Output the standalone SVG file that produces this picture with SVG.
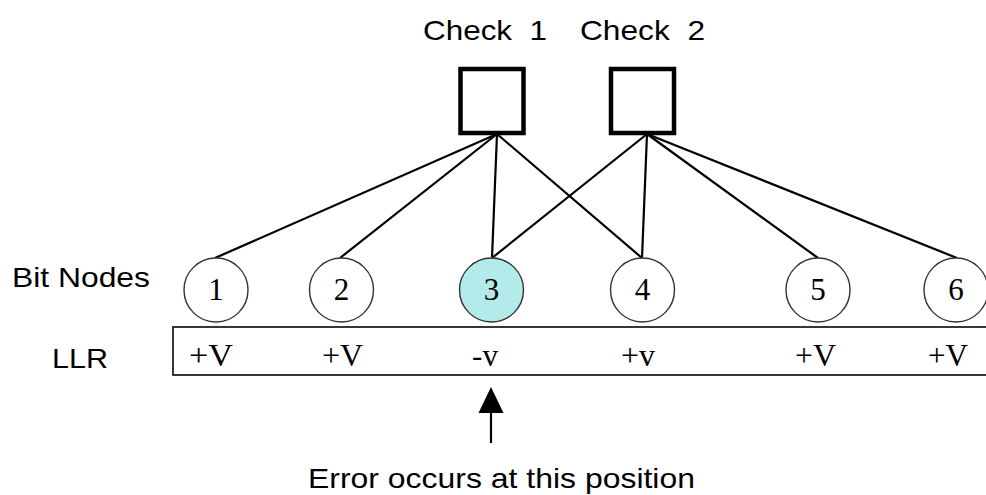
<svg xmlns="http://www.w3.org/2000/svg" width="986" height="495" viewBox="0 0 986 495">
  <style>
    .label { font-family: "Liberation Sans", Arial, sans-serif; font-size: 28px; fill: #000; }
    .check { fill: #fff; stroke: #000; stroke-width: 4.5; }
    .bit { fill: #fff; stroke: #333; stroke-width: 1.4; }
    .bit.err { fill: #b3ebeb; }
    .num { font-family: "Liberation Serif", "Times New Roman", serif; font-size: 31px; fill: #000; text-anchor: middle; }
    .llr { font-family: "Liberation Serif", "Times New Roman", serif; font-size: 31px; fill: #000; }
    .edge { stroke: #000; stroke-width: 2.2; fill: none; }
  </style>
  <rect width="986" height="495" fill="#fff"/>

  <!-- edges between check nodes and bit nodes -->
  <g id="connectors">
    <line class="edge" x1="497" y1="134" x2="215" y2="258"/>
    <line class="edge" x1="497" y1="134" x2="340" y2="258"/>
    <line class="edge" x1="497" y1="134" x2="492" y2="258"/>
    <line class="edge" x1="497" y1="134" x2="642" y2="258"/>
    <line class="edge" x1="647" y1="134" x2="492" y2="258"/>
    <line class="edge" x1="647" y1="134" x2="642" y2="258"/>
    <line class="edge" x1="647" y1="134" x2="818" y2="258"/>
    <line class="edge" x1="647" y1="134" x2="957" y2="258"/>
    <!-- pointer to the erroneous bit -->
    <line class="edge" x1="491" y1="443" x2="491" y2="400"/>
    <path d="M491,387 L478.5,413 L503.5,413 Z" fill="#000"/>
  </g>

  <!-- check nodes -->
  <g id="check1">
    <text class="label" x="423" y="40" textLength="124" lengthAdjust="spacingAndGlyphs" xml:space="preserve">Check  1</text>
    <rect class="check" x="460.5" y="69" width="63" height="64"/>
  </g>
  <g id="check2">
    <text class="label" x="580" y="40" textLength="125" lengthAdjust="spacingAndGlyphs" xml:space="preserve">Check  2</text>
    <rect class="check" x="611" y="69" width="63" height="64"/>
  </g>

  <!-- row labels -->
  <g id="row-labels">
    <text class="label" x="12" y="287" textLength="138" lengthAdjust="spacingAndGlyphs">Bit Nodes</text>
    <text class="label" x="52" y="368" textLength="56" lengthAdjust="spacingAndGlyphs">LLR</text>
  </g>

  <!-- bit nodes -->
  <g id="bit1"><circle class="bit" cx="216" cy="290" r="32"/><text class="num" x="216" y="300">1</text></g>
  <g id="bit2"><circle class="bit" cx="341.5" cy="290" r="32"/><text class="num" x="341.5" y="300">2</text></g>
  <g id="bit3"><circle class="bit err" cx="491.5" cy="290" r="32"/><text class="num" x="491.5" y="300">3</text></g>
  <g id="bit4"><circle class="bit" cx="642.5" cy="290" r="32"/><text class="num" x="642.5" y="300">4</text></g>
  <g id="bit5"><circle class="bit" cx="818" cy="290" r="32"/><text class="num" x="818" y="300">5</text></g>
  <g id="bit6"><circle class="bit" cx="956" cy="290" r="32"/><text class="num" x="956" y="300">6</text></g>

  <!-- LLR values -->
  <g id="llr-row">
    <rect x="173" y="327" width="830" height="48" fill="none" stroke="#222" stroke-width="1.8"/>
    <text class="llr" x="189" y="366" textLength="44" lengthAdjust="spacingAndGlyphs">+V</text>
    <text class="llr" x="322" y="366" textLength="41" lengthAdjust="spacingAndGlyphs">+V</text>
    <text class="llr" x="472" y="366" textLength="26" lengthAdjust="spacingAndGlyphs">-v</text>
    <text class="llr" x="621" y="366" textLength="34" lengthAdjust="spacingAndGlyphs">+v</text>
    <text class="llr" x="795" y="366" textLength="41" lengthAdjust="spacingAndGlyphs">+V</text>
    <text class="llr" x="928" y="366" textLength="40" lengthAdjust="spacingAndGlyphs">+V</text>
  </g>

  <g id="caption">
    <text class="label" x="308" y="488" textLength="387" lengthAdjust="spacingAndGlyphs">Error occurs at this position</text>
  </g>
</svg>
